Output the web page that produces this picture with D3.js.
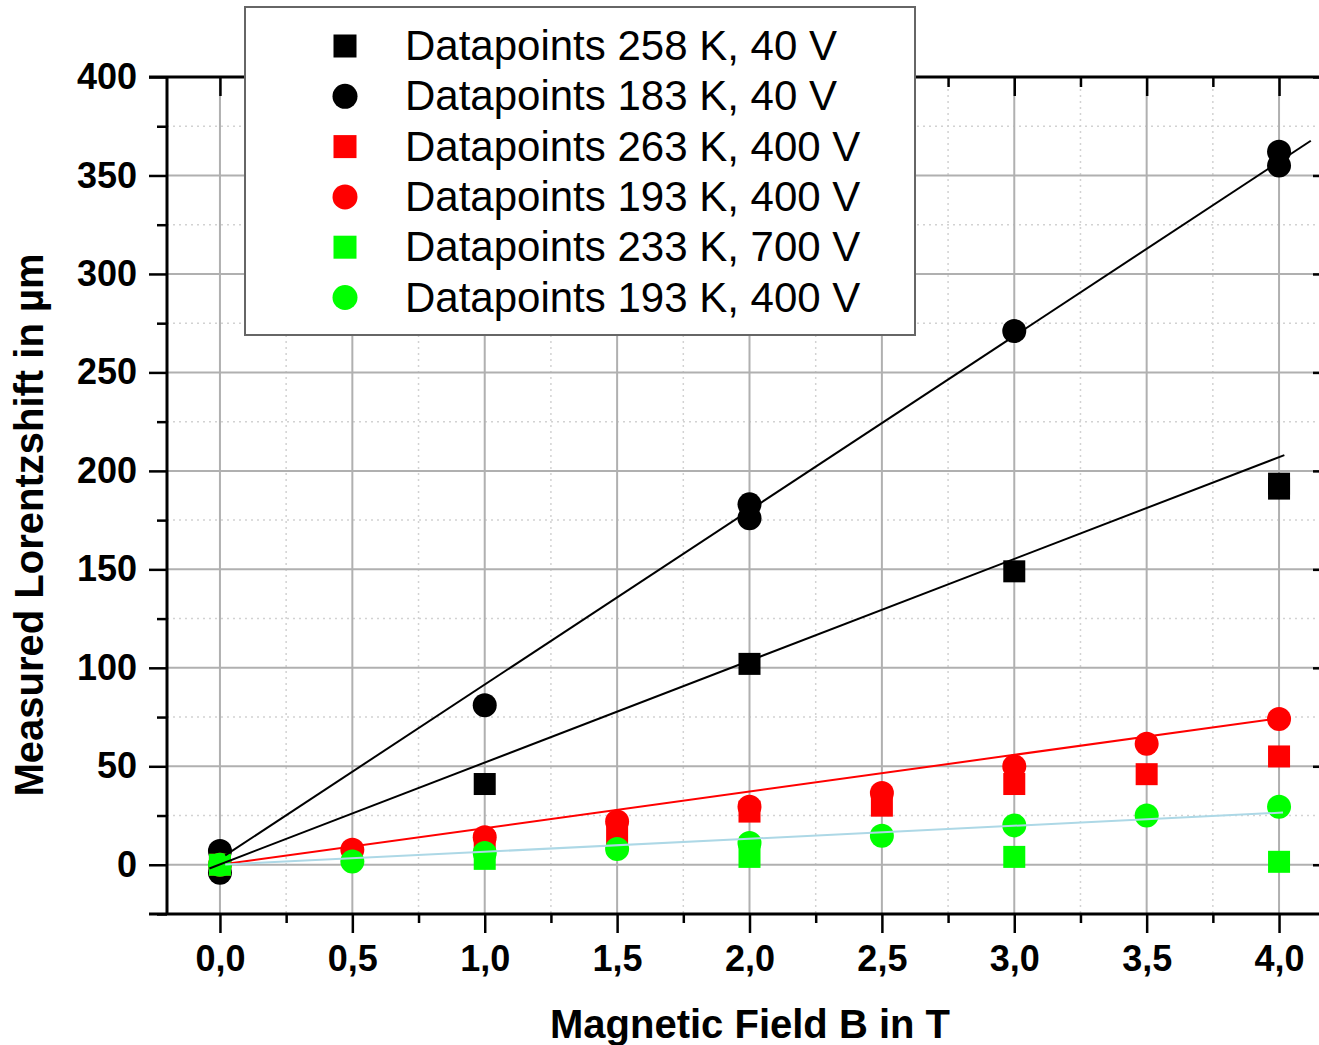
<!DOCTYPE html>
<html><head><meta charset="utf-8">
<script src="https://cdn.jsdelivr.net/npm/d3@7"></script>
<style>body{margin:0;background:#fff;overflow:hidden}svg{display:block}</style>
</head><body>
<svg id="c" width="1319" height="1045"></svg>
<script>
// ---- data ----
const xMajorTicks = [0, 0.5, 1, 1.5, 2, 2.5, 3, 3.5, 4];
const xMinorTicks = [0.25, 0.75, 1.25, 1.75, 2.25, 2.75, 3.25, 3.75];
const yMajorTicks = [0, 50, 100, 150, 200, 250, 300, 350, 400];
const yMinorTicks = [-25, 25, 75, 125, 175, 225, 275, 325, 375];

const legendLabels = ["Datapoints 258 K, 40 V", "Datapoints 183 K, 40 V", "Datapoints 263 K, 400 V",
  "Datapoints 193 K, 400 V", "Datapoints 233 K, 700 V", "Datapoints 193 K, 400 V"];

const blackSquareB = [0, 1, 2, 3, 4, 4];
const blackSquareS = [0, 41, 102, 149, 193.5, 191];
const blackCircleB = [0, 0, 1, 2, 2, 3, 4, 4];
const blackCircleS = [7, -4, 81, 183, 176, 271, 362, 355];
const redSquareB = [0, 1, 1.5, 2, 2.5, 3, 3.5, 4];
const redSquareS = [0, 11, 16, 27, 30, 41, 46, 55];
const redCircleB = [0, 0.5, 1, 1.5, 2, 2.5, 3, 3.5, 4];
const redCircleS = [0, 7.6, 14, 22, 29.5, 36.5, 50, 61.5, 74];
const greenSquareB = [0, 1, 2, 3, 4];
const greenSquareS = [0, 3, 4, 4, 1.5];
const greenCircleB = [0, 0.5, 1, 1.5, 2, 2.5, 3, 3.5, 4];
const greenCircleS = [0, 1.7, 6, 8, 11, 14.7, 20, 25, 29.5];

// linear fits: slope, intercept, B range
const fitSlope = [51.7, 88.5, 18.6, 6.6];
const fitIntercept = [0.2, 3, 0, 0];
const fitStart = [-0.04, 0.02, 0.04, 0.02];
const fitEnd = [4.02, 4.12, 4.0, 4.015];

// ---- styles ----
const seriesColor = ["#000", "#000", "#ff0000", "#ff0000", "#00ff00", "#00ff00"];
const seriesShape = ["square", "circle", "square", "circle", "square", "circle"];
const fitColor = ["#000", "#000", "#ff0000", "#add8e6"];

const series = [
  [blackSquareB, blackSquareS], [blackCircleB, blackCircleS],
  [redSquareB, redSquareS], [redCircleB, redCircleS],
  [greenSquareB, greenSquareS], [greenCircleB, greenCircleS]
];

const svg = d3.select("#c");
const L = 167, R = 1332, T = 77, B = 914;
const x = d3.scaleLinear().domain([-0.2, 4.2]).range([L, R]);
const y = d3.scaleLinear().domain([-25, 400]).range([B, T]);
const fmt = v => d3.format(".1f")(v).replace(".", ",");
const font = "'Liberation Sans', Arial, sans-serif";

// grid
const g = svg.append("g");
g.selectAll(".gxm").data(xMinorTicks).join("line")
  .attr("x1", d => x(d)).attr("x2", d => x(d)).attr("y1", T).attr("y2", B)
  .attr("stroke", "#d2d2d2").attr("stroke-width", 1.5).attr("stroke-dasharray", "2,4");
g.selectAll(".gym").data(yMinorTicks.filter(v => v > -25)).join("line")
  .attr("x1", L).attr("x2", R).attr("y1", d => y(d)).attr("y2", d => y(d))
  .attr("stroke", "#d2d2d2").attr("stroke-width", 1.5).attr("stroke-dasharray", "2,4");
g.selectAll(".gx").data(xMajorTicks).join("line")
  .attr("x1", d => x(d)).attr("x2", d => x(d)).attr("y1", T).attr("y2", B)
  .attr("stroke", "#b0b0b0").attr("stroke-width", 2);
g.selectAll(".gy").data(yMajorTicks.filter(v => v < 400)).join("line")
  .attr("x1", L).attr("x2", R).attr("y1", d => y(d)).attr("y2", d => y(d))
  .attr("stroke", "#b0b0b0").attr("stroke-width", 2);

// axes
function styleAxis(sel) {
  sel.select(".domain").remove();
  sel.selectAll("line").attr("stroke", "#000").attr("stroke-width", 2.5);
  sel.selectAll("text").attr("font-family", font).attr("font-weight", "bold").attr("font-size", 36).attr("fill", "#000");
}
svg.append("g").attr("transform", `translate(${L},0)`)
  .call(d3.axisLeft(y).tickValues(yMajorTicks).tickSize(18).tickPadding(12).tickFormat(d3.format("d"))).call(styleAxis);
svg.append("g").attr("transform", `translate(${L},0)`)
  .call(d3.axisLeft(y).tickValues(yMinorTicks).tickSize(10).tickFormat("")).call(styleAxis);
svg.append("g").attr("transform", `translate(0,${B})`)
  .call(d3.axisBottom(x).tickValues(xMajorTicks).tickSize(19).tickPadding(12).tickFormat(fmt)).call(styleAxis);
svg.append("g").attr("transform", `translate(0,${B})`)
  .call(d3.axisBottom(x).tickValues(xMinorTicks).tickSize(9).tickFormat("")).call(styleAxis);
// top (inward)
svg.append("g").attr("transform", `translate(0,${T})`)
  .call(d3.axisBottom(x).tickValues(xMajorTicks).tickSize(19).tickFormat("")).call(styleAxis);
svg.append("g").attr("transform", `translate(0,${T})`)
  .call(d3.axisBottom(x).tickValues(xMinorTicks).tickSize(10).tickFormat("")).call(styleAxis);
// right (inward)
svg.append("g").attr("transform", `translate(${R},0)`)
  .call(d3.axisLeft(y).tickValues(yMajorTicks).tickSize(19).tickFormat("")).call(styleAxis);
svg.append("g").attr("transform", `translate(${R},0)`)
  .call(d3.axisLeft(y).tickValues(yMinorTicks).tickSize(10).tickFormat("")).call(styleAxis);

// frame
const fr = svg.append("g").attr("stroke", "#000").attr("stroke-width", 3);
fr.append("line").attr("x1", L).attr("x2", L).attr("y1", T).attr("y2", B);
fr.append("line").attr("x1", L - 18).attr("x2", R).attr("y1", B).attr("y2", B);
fr.append("line").attr("x1", L - 18).attr("x2", R).attr("y1", T).attr("y2", T);
fr.append("line").attr("x1", R).attr("x2", R).attr("y1", T).attr("y2", B);

// markers
function drawMarker(sel, shape, color, cx, cy, big) {
  if (shape === "square") {
    const s = big ? 23 : 22;
    sel.append("rect").attr("x", cx - s / 2).attr("y", cy - s / 2).attr("width", s).attr("height", s).attr("fill", color);
  } else {
    sel.append("circle").attr("cx", cx).attr("cy", cy).attr("r", big ? 12.5 : 12).attr("fill", color);
  }
}
const mk = svg.append("g");
series.forEach(([bs, ss], i) => {
  bs.forEach((b, j) => drawMarker(mk, seriesShape[i], seriesColor[i], x(b), y(ss[j]), false));
});

// fit lines
const fl = svg.append("g");
fitSlope.forEach((m, i) => {
  const b0 = fitStart[i], b1 = fitEnd[i];
  fl.append("line")
    .attr("x1", x(b0)).attr("y1", y(fitIntercept[i] + m * b0))
    .attr("x2", x(b1)).attr("y2", y(fitIntercept[i] + m * b1))
    .attr("stroke", fitColor[i]).attr("stroke-width", 2);
});

// legend
const lg = svg.append("g");
lg.append("rect").attr("x", 245).attr("y", 7).attr("width", 670).attr("height", 328)
  .attr("fill", "#fff").attr("stroke", "#666").attr("stroke-width", 2);
legendLabels.forEach((t, i) => {
  const cy = 46 + i * 50.3;
  drawMarker(lg, seriesShape[i], seriesColor[i], 345, cy, true);
  lg.append("text").attr("x", 405).attr("y", cy + 14).text(t)
    .attr("font-family", font).attr("font-size", 42).attr("fill", "#000");
});

// axis titles
svg.append("text").attr("x", 750).attr("y", 1038).attr("text-anchor", "middle")
  .attr("font-family", font).attr("font-weight", "bold").attr("font-size", 40).text("Magnetic Field B in T");
svg.append("text").attr("transform", "translate(43,525) rotate(-90)").attr("text-anchor", "middle")
  .attr("font-family", font).attr("font-weight", "bold").attr("font-size", 40)
  .text("Measured Lorentzshift in µm");
</script>
</body></html>
